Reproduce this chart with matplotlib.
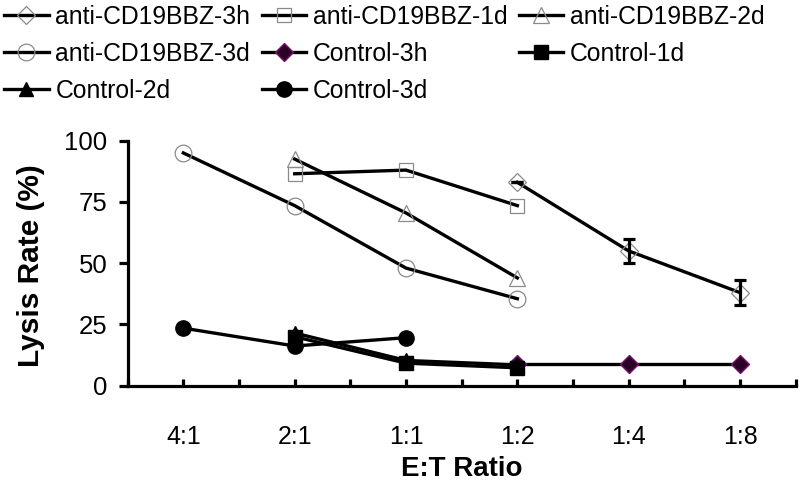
import matplotlib
matplotlib.use("Agg")
import matplotlib.pyplot as plt
import numpy as np

categories = ["4:1", "2:1", "1:1", "1:2", "1:4", "1:8"]

anti_3h_x = ["1:2", "1:4", "1:8"]
anti_3h_y = [83, 55, 38]
anti_3h_err = [0, 5, 5]
anti_1d_x = ["2:1", "1:1", "1:2"]
anti_1d_y = [86.5, 88, 73.5]
anti_2d_x = ["2:1", "1:1", "1:2"]
anti_2d_y = [92.5, 70.5, 44]
anti_3d_x = ["4:1", "2:1", "1:1", "1:2"]
anti_3d_y = [95, 73.5, 48, 35.5]
ctrl_3h_x = ["1:2", "1:4", "1:8"]
ctrl_3h_y = [9, 9, 9]
ctrl_1d_x = ["2:1", "1:1", "1:2"]
ctrl_1d_y = [20, 9.2, 7.3]
ctrl_2d_x = ["2:1", "1:1", "1:2"]
ctrl_2d_y = [21.5, 10.3, 8.5]
ctrl_3d_x = ["4:1", "2:1", "1:1"]
ctrl_3d_y = [23.5, 16.2, 19.6]

plt.rcParams['font.family'] = ['Liberation Sans', 'DejaVu Sans']

fig = plt.figure(figsize=(8, 4.86), dpi=100)
ax = fig.add_axes([0.1596, 0.2064, 0.835, 0.5041])

pos = {c: i for i, c in enumerate(categories)}
def xs(lbls):
    return [pos[l] for l in lbls]

lw = 2.4
gray = "#8a8a8a"
h = {}
h['3h'], = ax.plot(xs(anti_3h_x), anti_3h_y, color='black', lw=lw, marker='D', ms=9.5,
                   mfc='none', mec=gray, mew=0.9, label='anti-CD19BBZ-3h')
ax.errorbar(xs(anti_3h_x), anti_3h_y, yerr=anti_3h_err, fmt='none', ecolor='black',
            elinewidth=2.3, capsize=4.5, capthick=2.3)
h['1d'], = ax.plot(xs(anti_1d_x), anti_1d_y, color='black', lw=lw, marker='s', ms=10,
                   mfc='none', mec=gray, mew=0.9, label='anti-CD19BBZ-1d')
h['2d'], = ax.plot(xs(anti_2d_x), anti_2d_y, color='black', lw=lw, marker='^', ms=11,
                   mfc='none', mec=gray, mew=0.9, label='anti-CD19BBZ-2d')
h['3d'], = ax.plot(xs(anti_3d_x), anti_3d_y, color='black', lw=lw, marker='o', ms=12,
                   mfc='none', mec=gray, mew=0.9, label='anti-CD19BBZ-3d')
h['c3h'], = ax.plot(xs(ctrl_3h_x), ctrl_3h_y, color='black', lw=lw, marker='D', ms=9,
                    mfc='#2a0024', mec='#7a1070', mew=1.0, label='Control-3h')
h['c1d'], = ax.plot(xs(ctrl_1d_x), ctrl_1d_y, color='black', lw=lw, marker='s', ms=10,
                    mfc='black', mec='black', label='Control-1d')
h['c2d'], = ax.plot(xs(ctrl_2d_x), ctrl_2d_y, color='black', lw=lw, marker='^', ms=10,
                    mfc='black', mec='black', label='Control-2d')
h['c3d'], = ax.plot(xs(ctrl_3d_x), ctrl_3d_y, color='black', lw=lw, marker='o', ms=11,
                    mfc='black', mec='black', label='Control-3d')

ax.set_xlim(-0.5, 5.5)
ax.set_ylim(0, 100)
ax.set_yticks([0, 25, 50, 75, 100])
ax.set_xticks(range(len(categories)))
ax.set_xticklabels(categories)
ax.set_xticks(np.arange(-0.5, 5.6, 1.0), minor=True)
for s in ['top', 'right']:
    ax.spines[s].set_visible(False)
for s in ['left', 'bottom']:
    ax.spines[s].set_linewidth(2.3)
ax.tick_params(axis='y', direction='out', length=6.5, width=2.3, labelsize=18.5, pad=8)
ax.tick_params(axis='x', which='both', direction='in', length=5, width=2.3, labelsize=18, pad=28)
ax.set_ylabel('Lysis Rate (%)', fontsize=21.5, fontweight='bold', va='center')
ax.yaxis.set_label_coords(-0.145, 0.49)
ax.set_xlabel('E:T Ratio', fontsize=20, fontweight='bold', va='center')
ax.xaxis.set_label_coords(0.5, -0.34)

order = ['3h', '3d', 'c2d', '1d', 'c3h', 'c3d', '2d', 'c1d']
fig.legend([h[k] for k in order], [h[k].get_label() for k in order], ncol=3,
           loc='upper left', bbox_to_anchor=(0.005, 0.99), frameon=False,
           prop={'size': 17.8}, handlelength=1.8,
           handletextpad=0.28, columnspacing=0.45, labelspacing=0.52,
           borderaxespad=0.0, borderpad=0.0)

fig.savefig('out.png', dpi=100)
